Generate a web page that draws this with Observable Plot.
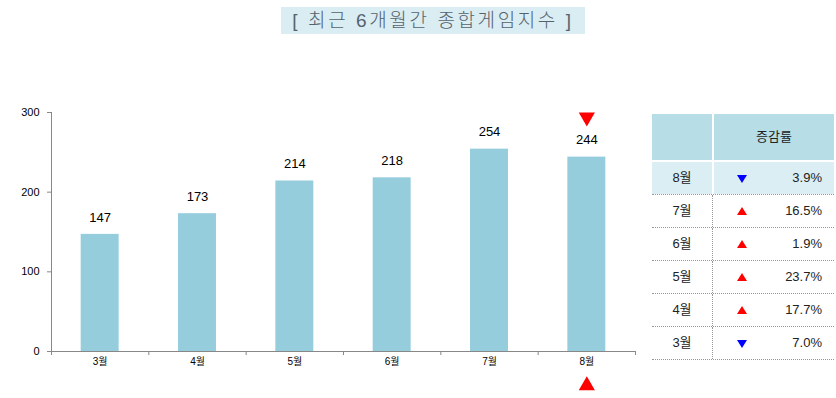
<!DOCTYPE html>
<html>
<head>
<meta charset="utf-8">
<script src="https://cdn.jsdelivr.net/npm/d3@7"></script>
<script src="https://cdn.jsdelivr.net/npm/@observablehq/plot@0.6"></script>
<style>
  body { margin: 0; background: #fff; font-family: 'Liberation Sans', 'Noto Sans CJK KR', sans-serif; }
  #wrap { position: relative; width: 836px; height: 398px; overflow: hidden; }
  #title { position: absolute; left: 281px; top: 7px; width: 304px; height: 27px; background: #daedf2;
           color: #55626e; font-size: 19px; line-height: 27px; text-align: center; letter-spacing: 2.6px;
           font-weight: 300; font-family: 'Liberation Sans', 'Noto Sans CJK KR', sans-serif; white-space: nowrap; }
  #chart { position: absolute; left: 0; top: 48px; }
  #table { position: absolute; left: 652px; top: 114px; width: 182px; font-size: 13px; color: #222; }
  .row { display: flex; }
  .c1 { width: 60px; text-align: center; }
  .c2 { width: 120px; position: relative; }
  .head { height: 46px; margin-bottom: 2px; }
  .head .c1, .head .c2 { background: #b7dde7; }
  .head .c1 { margin-right: 2px; }
  .head .c2 { text-align: center; line-height: 46px; }
  .hl { height: 32px; border-bottom: 1px dotted #999; }
  .hl .c1 { background: #dbeef4; margin-right: 2px; line-height: 32px; height: 32px; }
  .hl .c2 { background: #dbeef4; height: 32px; }
  .nr { height: 32px; border-bottom: 1px dotted #999; }
  .nr .c1 { line-height: 32px; border-right: 1px dotted #999; margin-right: 1px; }
  .tri { position: absolute; left: 23px; top: 13px; width: 0; height: 0; border-left: 5px solid transparent; border-right: 5px solid transparent; }
  .up { border-bottom: 8px solid #ff0000; top: 12px; }
  .down { border-top: 8px solid #0000ff; }
  .pct { position: absolute; right: 12px; top: 0; line-height: 32px; }
</style>
</head>
<body>
<div id="wrap">
  <div id="title"></div>
  <div id="chart"></div>
  <div id="table"></div>
</div>
<script>
const titleText = "[ 최근 6개월간 종합게임지수 ]";
const months = ["3월", "4월", "5월", "6월", "7월", "8월"];
const values = [147, 173, 214, 218, 254, 244];
const yTicks = [0, 100, 200, 300];
const tableHeader = "증감률";
const tableMonths = ["8월", "7월", "6월", "5월", "4월", "3월"];
const tableChanges = ["3.9%", "16.5%", "1.9%", "23.7%", "17.7%", "7.0%"];
const tableDirections = ["down", "up", "up", "up", "up", "down"];
const markedMonth = "8월";

document.getElementById("title").textContent = titleText;

const data = months.map((m, i) => ({ m, i, v: values[i] }));
const boundaries = months.map((_, i) => i - 0.5).concat([months.length - 0.5]);
const marked = data.filter(d => d.m === markedMonth);

const chart = Plot.plot({
  width: 640,
  height: 350,
  marginLeft: 51,
  marginRight: 5,
  marginTop: 64,
  marginBottom: 47,
  style: { fontFamily: "'Liberation Sans', 'Noto Sans CJK KR', sans-serif", color: "#000", background: "transparent" },
  x: { type: "linear", domain: [-0.5, months.length - 0.5] },
  y: { domain: [0, 300] },
  marks: [
    Plot.rectY(data, { x1: d => d.i - 0.195, x2: d => d.i + 0.195, y1: 0, y2: "v", fill: "#96cddd" }),
    Plot.ruleY([0], { stroke: "#888" }),
    Plot.ruleX([-0.5], { stroke: "#888" }),
    Plot.axisY({ ticks: yTicks, tickSize: 4, tickPadding: 8, fontSize: 11, stroke: "#888", fill: "#000", label: null }),
    Plot.axisX({ ticks: boundaries, tickSize: 4, text: null, stroke: "#888", label: null }),
    Plot.axisX({ ticks: d3.range(months.length), tickSize: 0, tickPadding: 6, tickFormat: i => months[i], fontSize: 10, fill: "#000", label: null }),
    Plot.text(data, { x: "i", y: "v", text: d => String(d.v), dy: -17, fontSize: 13, fill: "#000" }),
    Plot.dot(marked, { x: "i", y: "v", symbol: "triangle", rotate: 180, r: 6, fill: "#ff0000", stroke: "none", dy: -40 }),
    Plot.dot(marked, { x: "i", y: 0, symbol: "triangle", r: 6, fill: "#ff0000", stroke: "none", dy: 34 })
  ]
});
document.getElementById("chart").appendChild(chart);

const table = document.getElementById("table");
let html = `<div class="row head"><div class="c1"></div><div class="c2">${tableHeader}</div></div>`;
tableMonths.forEach((m, k) => {
  const cls = k === 0 ? "hl" : "nr";
  html += `<div class="row ${cls}"><div class="c1">${m}</div><div class="c2"><span class="tri ${tableDirections[k]}"></span><span class="pct">${tableChanges[k]}</span></div></div>`;
});
table.innerHTML = html;
</script>
</body>
</html>
